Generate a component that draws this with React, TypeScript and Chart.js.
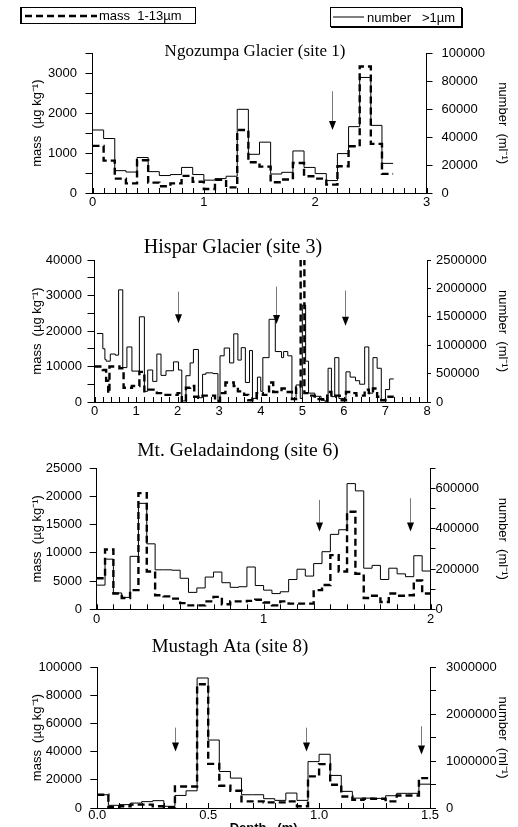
import React, { useEffect, useRef } from 'react';
import { Chart, registerables } from 'chart.js';

Chart.register(...registerables);

const SANS = '"Liberation Sans", Arial, Helvetica, sans-serif';
const SERIF = '"Liberation Serif", "Times New Roman", Times, serif';

// ---------------- Ngozumpa Glacier (site 1) ----------------
const p1Depth = [0, 0.1, 0.2, 0.3, 0.4, 0.5, 0.6, 0.7, 0.8, 0.9, 1.0, 1.1, 1.2, 1.3, 1.4, 1.5, 1.6, 1.7, 1.8, 1.9, 2.0, 2.1, 2.2, 2.3, 2.4, 2.5, 2.6, 2.7];
const p1Mass = [1180, 810, 360, 240, 820, 260, 170, 240, 430, 280, 100, 330, 140, 1580, 770, 660, 270, 340, 750, 420, 360, 210, 670, 1170, 3170, 1230, 480];
const p1Number = [45100, 39000, 16000, 15000, 25400, 15300, 12500, 13200, 18300, 13200, 9200, 10300, 12000, 59900, 27700, 36400, 13600, 14800, 30100, 18300, 13900, 8900, 28200, 47500, 82700, 48400, 21200];
const p1ArrowDepth = [2.15];
const p1ArrowFrom = [2550];
const p1ArrowTo = [1580];

// ---------------- Hispar Glacier (site 3) ----------------
const p2MassDepth = [0.0, 0.2, 0.28, 0.33, 0.36, 0.6, 0.7, 0.9, 1.08, 1.2, 1.3, 1.5, 1.6, 2.0, 2.1, 2.2, 2.3, 2.4, 2.5, 2.6, 2.9, 3.02, 3.15, 3.35, 3.45, 3.6, 3.7, 3.8, 3.9, 4.05, 4.2, 4.3, 4.5, 4.65, 4.75, 4.85, 4.96, 5.05, 5.15, 5.3, 5.5, 5.6, 5.7, 5.8, 5.9, 6.05, 6.2, 6.3, 6.5, 6.6, 6.7, 6.8, 6.9, 7.0, 7.2];
const p2Mass = [10000, 9000, 6000, 2500, 10000, 9500, 4000, 4500, 8500, 3000, 3500, 2500, 2000, 2500, 0, 4000, 4500, 1500, 1200, 1800, 300, 2500, 5500, 4500, 3000, 2000, 500, 1000, 2500, 2000, 5500, 2800, 3800, 2800, 800, 4000, 45000, 2500, 1800, 800, 300, 2800, 1500, 1800, 500, 2800, 2500, 1800, 3500, 2500, 3800, 1500, 500, 1500];
const p2NumberDepth = [0.06, 0.2, 0.25, 0.28, 0.38, 0.5, 0.58, 0.68, 0.78, 0.9, 1.08, 1.2, 1.28, 1.4, 1.5, 1.6, 1.72, 1.9, 2.02, 2.1, 2.2, 2.3, 2.38, 2.5, 2.6, 2.68, 2.85, 2.97, 3.02, 3.12, 3.25, 3.35, 3.45, 3.53, 3.63, 3.73, 3.8, 3.92, 4.0, 4.05, 4.2, 4.35, 4.5, 4.55, 4.65, 4.75, 4.85, 4.95, 5.0, 5.08, 5.15, 5.3, 5.45, 5.55, 5.62, 5.7, 5.78, 5.88, 6.05, 6.15, 6.28, 6.38, 6.5, 6.6, 6.7, 6.8, 6.9, 7.0, 7.1, 7.2];
const p2Number = [1206000, 937500, 750000, 719000, 844000, 825000, 1975000, 606000, 969000, 544000, 1500000, 188000, 563000, 363000, 844000, 469000, 550000, 706000, 563000, 20000, 463000, 688000, 925000, 75000, 488000, 513000, 500000, 10000, 813000, 950000, 688000, 1200000, 738000, 956000, 344000, 906000, 63000, 438000, 188000, 781000, 1456000, 888000, 781000, 888000, 813000, 63000, 300000, 63000, 1706000, 719000, 156000, 100000, 31000, 5000, 594000, 94000, 781000, 63000, 531000, 438000, 375000, 313000, 969000, 156000, 781000, 594000, 31000, 219000, 406000];
const p2ArrowDepth = [2.0, 4.36, 6.02];
const p2ArrowFrom = [31100, 32500, 31400];
const p2ArrowTo = [22200, 22000, 21500];

// ---------------- Mt. Geladaindong (site 6) ----------------
const p3Depth = [0, 0.05, 0.1, 0.15, 0.2, 0.25, 0.3, 0.35, 0.4, 0.45, 0.5, 0.55, 0.6, 0.65, 0.7, 0.75, 0.8, 0.85, 0.9, 0.95, 1.0, 1.05, 1.1, 1.15, 1.2, 1.25, 1.3, 1.35, 1.4, 1.45, 1.5, 1.55, 1.6, 1.65, 1.7, 1.75, 1.8, 1.85, 1.9, 1.95, 2.0];
const p3Mass = [5500, 10600, 2800, 2000, 3400, 20600, 6700, 2500, 2300, 1900, 1100, 700, 700, 1400, 2200, 900, 1400, 1400, 1500, 1700, 1200, 700, 1400, 1000, 1000, 1000, 3400, 4300, 9600, 6700, 17300, 6300, 2000, 2400, 1300, 2800, 2400, 2500, 5100, 2800];
const p3Number = [120000, 249000, 81000, 59000, 263000, 526000, 325000, 196000, 196000, 194000, 154000, 84000, 106000, 160000, 185000, 132000, 109000, 112000, 210000, 118000, 95000, 78000, 87000, 148000, 199000, 165000, 227000, 286000, 372000, 395000, 624000, 588000, 204000, 218000, 148000, 204000, 176000, 162000, 266000, 190000];
const p3ArrowDepth = [1.33, 1.88];
const p3ArrowFrom = [19400, 19700];
const p3ArrowTo = [13800, 13800];

// ---------------- Mustagh Ata (site 8) ----------------
const p4Depth = [0, 0.05, 0.1, 0.15, 0.2, 0.25, 0.3, 0.35, 0.4, 0.45, 0.5, 0.55, 0.6, 0.65, 0.7, 0.75, 0.8, 0.85, 0.9, 0.95, 1.0, 1.05, 1.1, 1.15, 1.2, 1.25, 1.3, 1.35, 1.4, 1.45, 1.5];
const p4Mass = [9400, 700, 1200, 2400, 2400, 1200, 500, 15300, 15300, 87800, 31300, 15800, 12200, 4700, 4700, 4000, 4000, 4700, 1200, 22400, 31100, 16500, 8200, 5900, 6600, 6600, 4700, 8900, 8900, 21200];
const p4Number = [282000, 57000, 72000, 105000, 135000, 156000, 36000, 267000, 366000, 2766000, 1446000, 777000, 636000, 282000, 282000, 198000, 162000, 318000, 162000, 987000, 1143000, 693000, 354000, 210000, 210000, 204000, 261000, 312000, 312000, 507000];
const p4ArrowDepth = [0.35, 0.94, 1.46];
const p4ArrowFrom = [57000, 57000, 58000];
const p4ArrowTo = [40000, 40000, 38000];

// labels
const massLabel = 'mass 1-13µm';
const numberLabel = 'number >1µm';
const massAxisTitle = 'mass  (µg kg⁻¹)';
const numberAxisTitle = 'number  (ml⁻¹)';
const depthAxisTitle = 'Depth   (m)';

type PanelCfg = {
  title: string;
  titleSize: number;
  titleX: number;
  titleY: number;
  top: number;
  height: number;
  L: number;
  R: number;
  T: number;
  B: number;
  xMax: number;
  xStep: number;
  xLabelEvery: number;
  xDecimals: number;
  yMax: number;
  yStep: number;
  yLabelEvery: number;
  y1Max: number;
  y1Step: number;
  y1LabelEvery: number;
  leftPad: number;
  rightPad: number;
  rightTick: number;
  xPad: number;
  massDepth: number[];
  mass: number[];
  numDepth: number[];
  num: number[];
  arrowDepth: number[];
  arrowFrom: number[];
  arrowTo: number[];
  showDepthTitle: boolean;
};

const panels: PanelCfg[] = [
  {
    title: 'Ngozumpa Glacier (site 1)', titleSize: 17, titleX: 255, titleY: 56,
    top: 20, height: 195, L: 92.5, R: 426.5, T: 53.3, B: 193,
    xMax: 3, xStep: 0.1, xLabelEvery: 1, xDecimals: 0,
    yMax: 3500, yStep: 500, yLabelEvery: 1000,
    y1Max: 100000, y1Step: 20000, y1LabelEvery: 20000,
    leftPad: 8.5, rightPad: 9, rightTick: 6, xPad: 2,
    massDepth: p1Depth, mass: p1Mass, numDepth: p1Depth, num: p1Number,
    arrowDepth: p1ArrowDepth, arrowFrom: p1ArrowFrom, arrowTo: p1ArrowTo,
    showDepthTitle: false,
  },
  {
    title: 'Hispar Glacier (site 3)', titleSize: 20, titleX: 233, titleY: 253,
    top: 225, height: 200, L: 94.5, R: 427, T: 260, B: 402,
    xMax: 8, xStep: 0.2, xLabelEvery: 1, xDecimals: 0,
    yMax: 40000, yStep: 5000, yLabelEvery: 10000,
    y1Max: 2500000, y1Step: 500000, y1LabelEvery: 500000,
    leftPad: 5.5, rightPad: 5, rightTick: 4, xPad: 2,
    massDepth: p2MassDepth, mass: p2Mass, numDepth: p2NumberDepth, num: p2Number,
    arrowDepth: p2ArrowDepth, arrowFrom: p2ArrowFrom, arrowTo: p2ArrowTo,
    showDepthTitle: false,
  },
  {
    title: 'Mt. Geladaindong (site 6)', titleSize: 19.5, titleX: 238, titleY: 456,
    top: 425, height: 206, L: 96.7, R: 430.5, T: 468.3, B: 609.3,
    xMax: 2, xStep: 0.1, xLabelEvery: 1, xDecimals: 0,
    yMax: 25000, yStep: 5000, yLabelEvery: 5000,
    y1Max: 700000, y1Step: 100000, y1LabelEvery: 200000,
    leftPad: 7.7, rightPad: 0, rightTick: 5, xPad: 2,
    massDepth: p3Depth, mass: p3Mass, numDepth: p3Depth, num: p3Number,
    arrowDepth: p3ArrowDepth, arrowFrom: p3ArrowFrom, arrowTo: p3ArrowTo,
    showDepthTitle: false,
  },
  {
    title: 'Mustagh Ata (site 8)', titleSize: 19, titleX: 230, titleY: 652,
    top: 620, height: 220, L: 97.3, R: 430, T: 667, B: 808,
    xMax: 1.5, xStep: 0.1, xLabelEvery: 0.5, xDecimals: 1,
    yMax: 100000, yStep: 20000, yLabelEvery: 20000,
    y1Max: 3000000, y1Step: 500000, y1LabelEvery: 1000000,
    leftPad: 8.3, rightPad: 10, rightTick: 6, xPad: 0,
    massDepth: p4Depth, mass: p4Mass, numDepth: p4Depth, num: p4Number,
    arrowDepth: p4ArrowDepth, arrowFrom: p4ArrowFrom, arrowTo: p4ArrowTo,
    showDepthTitle: true,
  },
];

function steps(depth: number[], vals: number[]) {
  // value i holds from depth[i] to depth[i+1] (drawn with stepped: 'before')
  const pts = vals.map((v, i) => ({ x: depth[i], y: v }));
  pts.push({ x: depth[vals.length], y: vals[vals.length - 1] });
  return pts;
}

function isMultiple(v: number, m: number) {
  const r = v / m;
  return Math.abs(r - Math.round(r)) < 1e-6;
}

function makeDecor(cfg: PanelCfg) {
  return {
    id: 'decor',
    afterDraw(chart: any) {
      const { ctx, chartArea } = chart;
      const xs = chart.scales.x;
      const ys = chart.scales.y;
      ctx.save();
      // inward x ticks
      ctx.strokeStyle = '#000';
      ctx.lineWidth = 1;
      for (const t of xs.ticks) {
        const px = Math.round(xs.getPixelForValue(t.value)) + 0.5;
        ctx.beginPath();
        ctx.moveTo(px, chartArea.bottom);
        ctx.lineTo(px, chartArea.bottom - 5);
        ctx.stroke();
      }
      // panel title
      ctx.font = `${cfg.titleSize}px ${SERIF}`;
      ctx.fillStyle = '#000';
      ctx.textAlign = 'center';
      ctx.textBaseline = 'alphabetic';
      ctx.fillText(cfg.title, cfg.titleX, cfg.titleY - cfg.top);
      // arrows
      cfg.arrowDepth.forEach((d, i) => {
        const px = Math.round(xs.getPixelForValue(d)) + 0.5;
        const y0 = ys.getPixelForValue(cfg.arrowFrom[i]);
        const y1 = ys.getPixelForValue(cfg.arrowTo[i]);
        const hh = 9;
        const hw = 3.5;
        ctx.strokeStyle = '#7a7a7a';
        ctx.lineWidth = 1;
        ctx.beginPath();
        ctx.moveTo(px, y0);
        ctx.lineTo(px, y1 - hh);
        ctx.stroke();
        ctx.fillStyle = '#000';
        ctx.beginPath();
        ctx.moveTo(px - hw, y1 - hh);
        ctx.lineTo(px + hw, y1 - hh);
        ctx.lineTo(px, y1);
        ctx.closePath();
        ctx.fill();
      });
      ctx.restore();
    },
  };
}

function buildConfig(cfg: PanelCfg): any {
  const tickFont = { family: SANS, size: 13 };
  const titleFont = { family: SANS, size: 13 };
  const lineH = 13 * 1.2;
  const xh = cfg.height - (cfg.B - cfg.top);
  return {
    type: 'line',
    data: {
      datasets: [
        {
          label: massLabel,
          data: steps(cfg.massDepth, cfg.mass),
          yAxisID: 'y',
          borderColor: '#000',
          borderWidth: 2.4,
          borderDash: [7, 4],
          stepped: 'before',
          pointRadius: 0,
          fill: false,
        },
        {
          label: numberLabel,
          data: steps(cfg.numDepth, cfg.num),
          yAxisID: 'y1',
          borderColor: '#000',
          borderWidth: 1,
          stepped: 'before',
          pointRadius: 0,
          fill: false,
        },
      ],
    },
    options: {
      responsive: false,
      animation: false,
      devicePixelRatio: 1,
      events: [],
      layout: { padding: { top: cfg.T - cfg.top, left: 0, right: 0, bottom: 0 } },
      plugins: {
        legend: { display: false },
        tooltip: { enabled: false },
        title: { display: false },
      },
      scales: {
        x: {
          type: 'linear',
          min: 0,
          max: cfg.xMax,
          ticks: {
            stepSize: cfg.xStep,
            autoSkip: false,
            maxRotation: 0,
            padding: cfg.xPad,
            color: '#000',
            font: tickFont,
            callback: (v: number) => (isMultiple(v, cfg.xLabelEvery) ? Number(v).toFixed(cfg.xDecimals) : ''),
          },
          grid: { display: true, drawOnChartArea: false, drawTicks: false },
          border: { display: true, color: '#000', width: 1 },
          title: {
            display: cfg.showDepthTitle,
            text: depthAxisTitle,
            color: '#000',
            font: { family: SANS, size: 13, weight: 'bold' },
            padding: { top: 0, bottom: 4 },
          },
          afterFit: (s: any) => {
            s.height = xh;
          },
        },
        y: {
          position: 'left',
          min: 0,
          max: cfg.yMax,
          ticks: {
            stepSize: cfg.yStep,
            autoSkip: false,
            padding: cfg.leftPad,
            color: '#000',
            font: tickFont,
            callback: (v: number) => (isMultiple(v, cfg.yLabelEvery) ? String(Math.round(v)) : ''),
          },
          grid: { display: true, drawOnChartArea: false, drawTicks: true, tickLength: 7, color: '#000' },
          border: { display: true, color: '#000', width: 1 },
          title: {
            display: true,
            text: massAxisTitle,
            color: '#000',
            font: titleFont,
            padding: { top: 37 - lineH / 2, bottom: 0 },
          },
          afterFit: (s: any) => {
            s.width = cfg.L;
          },
        },
        y1: {
          position: 'right',
          min: 0,
          max: cfg.y1Max,
          ticks: {
            stepSize: cfg.y1Step,
            autoSkip: false,
            padding: cfg.rightPad,
            color: '#000',
            font: tickFont,
            callback: (v: number) => (isMultiple(v, cfg.y1LabelEvery) ? String(Math.round(v)) : ''),
          },
          grid: { display: true, drawOnChartArea: false, drawTicks: true, tickLength: cfg.rightTick, color: '#000' },
          border: { display: true, color: '#000', width: 1 },
          title: {
            display: true,
            text: numberAxisTitle,
            color: '#000',
            font: titleFont,
            padding: { top: 518 - 503 - lineH / 2, bottom: 0 },
          },
          afterFit: (s: any) => {
            s.width = 518 - cfg.R;
          },
        },
      },
    },
    plugins: [makeDecor(cfg)],
  };
}

function Panel({ cfg }: { cfg: PanelCfg }) {
  const ref = useRef<HTMLCanvasElement | null>(null);
  useEffect(() => {
    if (!ref.current) return;
    const chart = new Chart(ref.current, buildConfig(cfg));
    return () => chart.destroy();
  }, [cfg]);
  return (
    <canvas
      ref={ref}
      width={518}
      height={cfg.height}
      style={{ position: 'absolute', left: 0, top: cfg.top, width: 518, height: cfg.height }}
    />
  );
}

export default function App() {
  return (
    <div
      style={{
        position: 'absolute',
        left: 0,
        top: 0,
        width: 518,
        height: 827,
        overflow: 'hidden',
        background: '#fff',
      }}
    >
      {panels.map((p, i) => (
        <Panel key={i} cfg={p} />
      ))}
      <div
        style={{
          position: 'absolute',
          left: 20,
          top: 7,
          width: 176,
          height: 17,
          boxSizing: 'border-box',
          border: '1px solid #000',
          borderLeftWidth: 2,
          font: `13px ${SANS}`,
          color: '#000',
          display: 'flex',
          alignItems: 'center',
          whiteSpace: 'pre',
          zIndex: 5,
        }}
      >
        <svg width={72} height={6} style={{ marginLeft: 3 }}>
          <line x1={0} y1={3} x2={72} y2={3} stroke="#000" strokeWidth={2.6} strokeDasharray="7 4" />
        </svg>
        <span style={{ marginLeft: 2 }}>{'mass  1-13µm'}</span>
      </div>
      <div
        style={{
          position: 'absolute',
          left: 330,
          top: 7,
          width: 132,
          height: 20,
          boxSizing: 'border-box',
          border: '1px solid #000',
          boxShadow: '1px 1px 0 #000',
          font: `13px ${SANS}`,
          color: '#000',
          display: 'flex',
          alignItems: 'center',
          whiteSpace: 'pre',
          zIndex: 5,
        }}
      >
        <svg width={31} height={4} style={{ marginLeft: 2 }}>
          <line x1={0} y1={2} x2={31} y2={2} stroke="#000" strokeWidth={1} />
        </svg>
        <span style={{ marginLeft: 3 }}>{'number   >1µm'}</span>
      </div>
    </div>
  );
}
